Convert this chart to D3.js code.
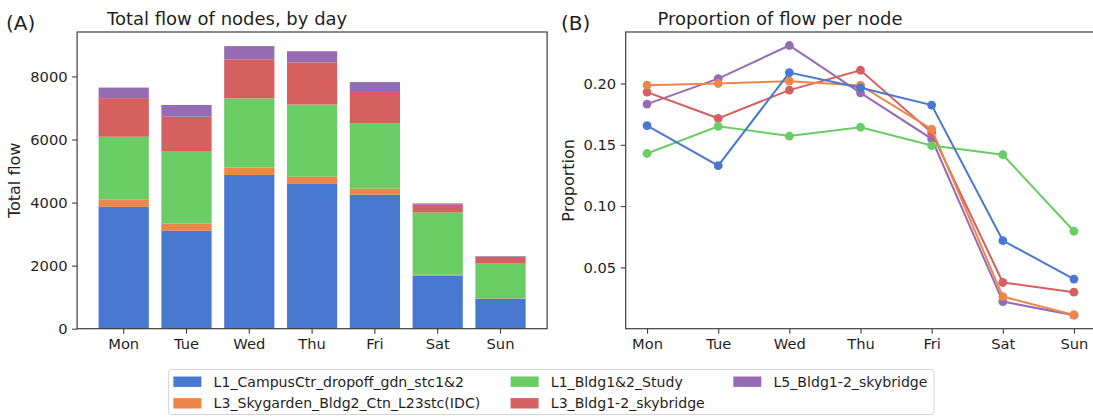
<!DOCTYPE html>
<html>
<head>
<meta charset="utf-8">
<script src="https://cdn.jsdelivr.net/npm/d3@7"></script>
<style>
  html, body { margin: 0; padding: 0; background: #fff; }
  svg { display: block; font-family: "DejaVu Sans", sans-serif; }
</style>
</head>
<body>
<svg id="chart" width="1093" height="417"></svg>
<script>
// ---- data ----
const days = ["Mon", "Tue", "Wed", "Thu", "Fri", "Sat", "Sun"];
const nodes = [
  "L1_CampusCtr_dropoff_gdn_stc1&2",
  "L3_Skygarden_Bldg2_Ctn_L23stc(IDC)",
  "L1_Bldg1&2_Study",
  "L3_Bldg1-2_skybridge",
  "L5_Bldg1-2_skybridge"
];
const nodeColors = ["#4878d0", "#ee854a", "#6acc64", "#d65f5f", "#956cb4"];

// total flow per node per day (stacked bars)
const flowCampusCtr = [3863, 3103, 4876, 4591, 4253, 1678, 950];
const flowSkygarden = [229, 230, 233, 228, 186, 31, 15];
const flowStudy     = [1995, 2300, 2195, 2290, 2080, 1975, 1119];
const flowL3Bridge  = [1225, 1090, 1234, 1338, 1018, 245, 195];
const flowL5Bridge  = [335, 373, 423, 352, 283, 43, 22];

// share of each node's weekly flow falling on each day
const propCampusCtr = [0.1656, 0.133, 0.2089, 0.1965, 0.1824, 0.0719, 0.0405];
const propSkygarden = [0.1986, 0.200, 0.2019, 0.1984, 0.1627, 0.0262, 0.0112];
const propStudy     = [0.1429, 0.1651, 0.1571, 0.1643, 0.1494, 0.1419, 0.0795];
const propL3Bridge  = [0.193, 0.1716, 0.1946, 0.2108, 0.160, 0.0377, 0.0298];
const propL5Bridge  = [0.1832, 0.204, 0.231, 0.1924, 0.1549, 0.0221, 0.011];

const flowTicks = [0, 2000, 4000, 6000, 8000];
const propTicks = [0.05, 0.10, 0.15, 0.20];

const flows = [flowCampusCtr, flowSkygarden, flowStudy, flowL3Bridge, flowL5Bridge];
const props = [propCampusCtr, propSkygarden, propStudy, propL3Bridge, propL5Bridge];

// ---- layout ----
const svg = d3.select("#chart");
const textColor = "#1f1f1f";
const spineColor = "#3d3d3d";
const tickFont = 14.7;

const A = { left: 77.1, right: 547.1, top: 32, bottom: 328.7 };
const B = { left: 625.7, right: 1095.3, top: 32, bottom: 328.7 };

function frame(g, box) {
  g.append("rect")
    .attr("x", box.left).attr("y", box.top)
    .attr("width", box.right - box.left).attr("height", box.bottom - box.top)
    .attr("fill", "none").attr("stroke", spineColor).attr("stroke-width", 1.2);
}

function styleAxis(sel) {
  sel.select(".domain").remove();
  sel.selectAll(".tick line").attr("stroke", spineColor).attr("stroke-width", 1.1);
  sel.selectAll(".tick text")
    .attr("fill", textColor)
    .style("font-size", tickFont + "px")
    .style("font-family", "DejaVu Sans");
}

// ---- (A) stacked bars ----
const gA = svg.append("g");
const xA = d3.scaleBand().domain(days).range([A.left, A.right])
  .paddingInner(0.2).paddingOuter(0.342);
const dayTotals = days.map((d, i) => d3.sum(flows, f => f[i]));
const yA = d3.scaleLinear().domain([0, d3.max(dayTotals) * 1.05]).range([A.bottom, A.top]);

const stackRows = days.map((d, i) => {
  const row = { day: d };
  nodes.forEach((n, k) => { row[n] = flows[k][i]; });
  return row;
});
const stacked = d3.stack().keys(nodes)(stackRows);

gA.selectAll("g.layer").data(stacked).join("g")
  .attr("class", "layer")
  .attr("fill", (d, k) => nodeColors[k])
  .selectAll("rect").data(d => d).join("rect")
  .attr("x", d => xA(d.data.day))
  .attr("width", xA.bandwidth())
  .attr("y", d => yA(d[1]))
  .attr("height", d => yA(d[0]) - yA(d[1]));

gA.append("g").attr("transform", `translate(0,${A.bottom})`)
  .call(d3.axisBottom(xA).tickSize(5).tickPadding(4.5))
  .call(styleAxis);
gA.append("g").attr("transform", `translate(${A.left},0)`)
  .call(d3.axisLeft(yA).tickValues(flowTicks).tickFormat(d3.format("d")).tickSize(5).tickPadding(4.5))
  .call(styleAxis);
frame(gA, A);

gA.append("text").attr("x", 6).attr("y", 29.5)
  .attr("fill", textColor).style("font-size", "20px").text("(A)");
gA.append("text").attr("x", 107).attr("y", 25)
  .attr("fill", textColor).style("font-size", "18px").text("Total flow of nodes, by day");
gA.append("text")
  .attr("transform", `translate(19.5,${(A.top + A.bottom) / 2}) rotate(-90)`)
  .attr("text-anchor", "middle")
  .attr("fill", textColor).style("font-size", "16px").text("Total flow");

// ---- (B) proportion lines ----
const gB = svg.append("g");
const xB = d3.scalePoint().domain(days).range([B.left, B.right]).padding(0.3);
const allProps = props.flat();
const pMin = d3.min(allProps), pMax = d3.max(allProps);
const pPad = (pMax - pMin) * 0.05;
const yB = d3.scaleLinear().domain([pMin - pPad, pMax + pPad]).range([B.bottom, B.top]);

gB.append("g").attr("transform", `translate(0,${B.bottom})`)
  .call(d3.axisBottom(xB).tickSize(5).tickPadding(4.5))
  .call(styleAxis);
gB.append("g").attr("transform", `translate(${B.left},0)`)
  .call(d3.axisLeft(yB).tickValues(propTicks).tickFormat(d3.format(".2f")).tickSize(5).tickPadding(4.5))
  .call(styleAxis);

const line = d3.line().x((d, i) => xB(days[i])).y(d => yB(d));
// later series sit on top where markers overlap
const drawOrder = [4, 3, 1, 2, 0];
drawOrder.forEach(k => {
  const s = gB.append("g");
  s.append("path").datum(props[k])
    .attr("d", line).attr("fill", "none")
    .attr("stroke", nodeColors[k]).attr("stroke-width", 2);
  s.selectAll("circle").data(props[k]).join("circle")
    .attr("cx", (d, i) => xB(days[i])).attr("cy", d => yB(d))
    .attr("r", 4.4).attr("fill", nodeColors[k]);
});
frame(gB, B);

gB.append("text").attr("x", 561).attr("y", 29.5)
  .attr("fill", textColor).style("font-size", "20px").text("(B)");
gB.append("text").attr("x", 657.5).attr("y", 25)
  .attr("fill", textColor).style("font-size", "18px").text("Proportion of flow per node");
gB.append("text")
  .attr("transform", `translate(574,${(B.top + B.bottom) / 2}) rotate(-90)`)
  .attr("text-anchor", "middle")
  .attr("fill", textColor).style("font-size", "16px").text("Proportion");

// ---- legend ----
const leg = svg.append("g");
leg.append("rect")
  .attr("x", 168.4).attr("y", 369.5).attr("width", 934 - 168.4).attr("height", 45)
  .attr("rx", 3).attr("fill", "#fff").attr("stroke", "#d4d4d4").attr("stroke-width", 1);
const colX = [173.4, 510.6, 733.3];
const rowY = [381.7, 403.3];
nodes.forEach((n, k) => {
  const c = Math.floor(k / 2), r = k % 2;
  leg.append("rect")
    .attr("x", colX[c]).attr("y", rowY[r] - 5.2).attr("width", 28).attr("height", 10.4)
    .attr("fill", nodeColors[k]);
  leg.append("text")
    .attr("x", colX[c] + 40.2).attr("y", rowY[r] + 5)
    .attr("fill", textColor).style("font-size", "14.1px").text(n);
});
</script>
</body>
</html>
